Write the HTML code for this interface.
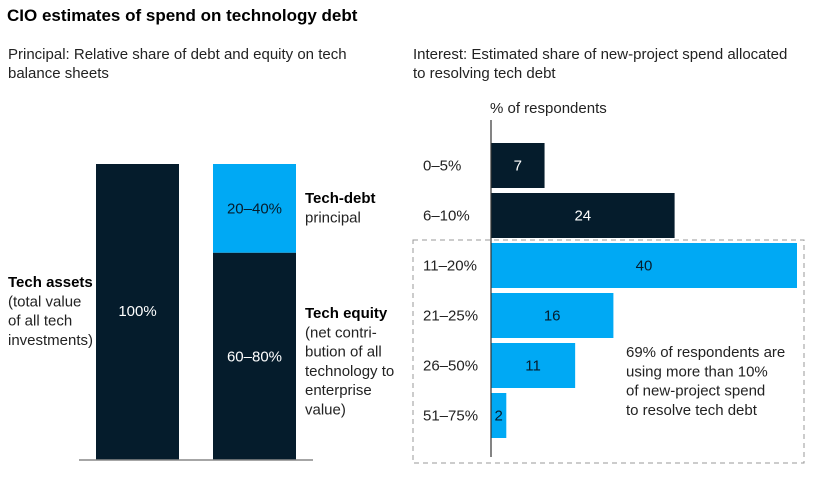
<!DOCTYPE html>
<html><head><meta charset="utf-8"><style>
body{margin:0;background:#fff;}
svg text{font-family:"Liberation Sans",sans-serif;}
</style></head><body>
<svg width="821" height="472" viewBox="0 0 821 472" xmlns="http://www.w3.org/2000/svg">
<text x="7" y="21" font-size="17" font-weight="bold" fill="#000">CIO estimates of spend on technology debt</text>
<g font-size="15" fill="#222">
<text x="8" y="59">Principal: Relative share of debt and equity on tech</text>
<text x="8" y="78">balance sheets</text></g>
<g font-size="15" fill="#222">
<text x="413" y="59">Interest: Estimated share of new-project spend allocated</text>
<text x="413" y="78">to resolving tech debt</text></g>
<g id="left"></g>
<g id="right"></g>
</svg>
<script>
const principalLabels=["100%","20–40%","60–80%"];
const debtShare=[30];
const categories=["0–5%","6–10%","11–20%","21–25%","26–50%","51–75%"];
const values=[7,24,40,16,11,2];
const NS="http://www.w3.org/2000/svg";
function mk(tag,attrs,parent,txt){const e=document.createElementNS(NS,tag);for(const k in attrs)e.setAttribute(k,attrs[k]);if(txt!==undefined)e.textContent=txt;parent.appendChild(e);return e;}
const DARK="#051c2c",BLUE="#00a9f4";
const L=document.getElementById('left');
const barTop=164,barBot=460,barH=barBot-barTop;
const yP=p=>barBot-barH*p/100;
let r=mk('rect',{x:96,y:yP(100),width:83,height:barH,fill:DARK},L);


const debtH=barH*debtShare[0]/100;
r=mk('rect',{x:213,y:barTop,width:83,height:debtH,fill:BLUE},L);


r=mk('rect',{x:213,y:barTop+debtH,width:83,height:barH-debtH,fill:DARK},L);


let t=mk('text',{x:137.5,y:316,'font-size':15,fill:'#fff','text-anchor':'middle'},L,principalLabels[0]);


t=mk('text',{x:254.5,y:barTop+debtH/2+5,'font-size':15,fill:DARK,'text-anchor':'middle'},L,principalLabels[1]);


t=mk('text',{x:254.5,y:(barTop+debtH+barBot)/2+5,'font-size':15,fill:'#fff','text-anchor':'middle'},L,principalLabels[2]);


let ln=mk('line',{x1:79,x2:313,y1:barBot,y2:barBot,stroke:'#888','stroke-width':1.5},L);


function block(lines,x,y0,name){const g=mk('g',{'font-size':15,fill:'#222'},L);


lines.forEach((s,i)=>mk('text',{x:x,y:y0+i*19.3,'font-weight':i==0?'bold':'normal','fill':i==0?'#000':'#222'},g,s));}
block(["Tech assets","(total value","of all tech","investments)"],8,287,'tech-assets-label');
block(["Tech-debt","principal"],305,203,'tech-debt-label');
block(["Tech equity","(net contri-","bution of all","technology to","enterprise","value)"],305,318,'tech-equity-label');
const R=document.getElementById('right');
const x0=491,scale=306/40,y0=143,step=50,bh=45;
const xS=v=>x0+v*scale;
let d=mk('rect',{x:413,y:240,width:391,height:223,fill:'none',stroke:'#999','stroke-dasharray':'5,4','stroke-width':1},R);


t=mk('text',{x:490,y:113,'font-size':15,fill:'#222'},R,'% of respondents');


categories.forEach((c,i)=>{const y=y0+i*step;const col=i<2?DARK:BLUE;
const b=mk('rect',{x:x0,y:y,width:xS(values[i])-x0,height:bh,fill:col},R);


const lb=mk('text',{x:423,y:y+bh/2+5,'font-size':15,fill:'#222'},R,c);


const w=xS(values[i])-x0;
const v=mk('text',{x:x0+w/2,y:y+bh/2+5,'font-size':15,fill:i<2?'#fff':DARK,'text-anchor':'middle'},R,values[i]);


});
ln=mk('line',{x1:x0,x2:x0,y1:120,y2:457,stroke:'#333','stroke-width':1.2},R);


const g=mk('g',{'font-size':15,fill:'#222'},R);


["69% of respondents are","using more than 10%","of new-project spend","to resolve tech debt"].forEach((s,i)=>mk('text',{x:626,y:357+i*19.3},g,s));
</script>
</body></html>
